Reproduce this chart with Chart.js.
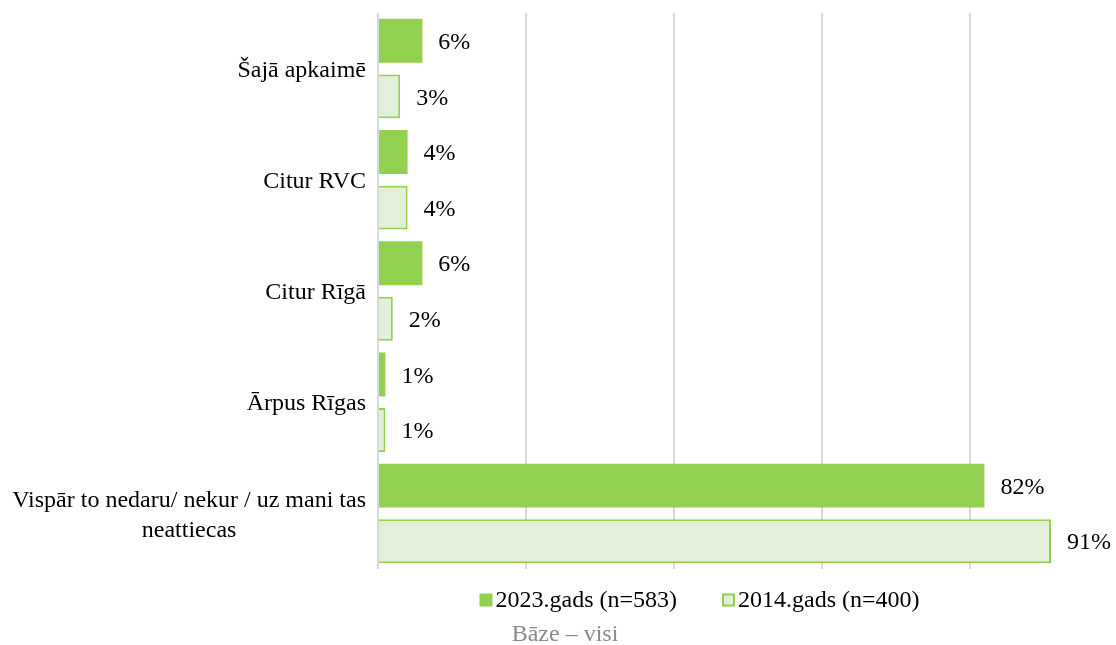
<!DOCTYPE html>
<html>
<head>
<meta charset="utf-8">
<script src="https://cdn.jsdelivr.net/npm/chart.js@4/dist/chart.umd.min.js"></script>
<style>
  html, body { margin:0; padding:0; background:#fff; }
  #wrap { width:1116px; height:645px; }
</style>
</head>
<body>
<div id="wrap"><canvas id="chart" width="1116" height="645"></canvas></div>
<script>
const categories = [
  "Šajā apkaimē",
  "Citur RVC",
  "Citur Rīgā",
  "Ārpus Rīgas",
  ["Vispār to nedaru/ nekur / uz mani tas", "neattiecas"]
];
const values2023 = [6, 4, 6, 1, 82];
const values2014 = [3, 4, 2, 1, 91];
const seriesNames = ["2023.gads (n=583)", "2014.gads (n=400)"];
const gridSteps = [0, 20, 40, 60, 80];
const baseNote = "Bāze – visi";

const FONT = "'Liberation Serif', 'Times New Roman', serif";
const FONT_SIZE = 24;

// right-aligned category block, each line centred inside it
const categoryLabels = {
  id: "categoryLabels",
  afterDraw(chart){
    const ctx = chart.ctx;
    const y = chart.scales.y;
    const right = 366;
    const lineH = 30;
    ctx.save();
    ctx.font = `${FONT_SIZE}px ${FONT}`;
    ctx.fillStyle = "#000";
    ctx.textBaseline = "middle";
    ctx.textAlign = "center";
    chart.data.labels.forEach((lab, i) => {
      const lines = Array.isArray(lab) ? lab : [lab];
      const w = Math.max(...lines.map(l => ctx.measureText(l).width));
      const cx = right - w/2;
      const cy = y.getPixelForValue(i) + 2;
      const top = cy - (lines.length-1)*lineH/2;
      lines.forEach((l, k) => ctx.fillText(l, cx, top + k*lineH));
    });
    ctx.restore();
  }
};

// percent labels at the end of each bar
const valueLabels = {
  id: "valueLabels",
  afterDatasetsDraw(chart){
    const ctx = chart.ctx;
    ctx.save();
    ctx.font = `${FONT_SIZE}px ${FONT}`;
    ctx.fillStyle = "#000";
    ctx.textBaseline = "middle";
    ctx.textAlign = "left";
    chart.data.datasets.forEach((ds, di) => {
      chart.getDatasetMeta(di).data.forEach((bar, i) => {
        ctx.fillText(ds.data[i] + "%", bar.x + 16, bar.y + 2);
      });
    });
    ctx.restore();
  }
};

// legend row and base note under the plot
const bottomLegend = {
  id: "bottomLegend",
  afterDraw(chart){
    const ctx = chart.ctx;
    const area = chart.chartArea;
    const box = 13, gap = 3, between = 45;
    ctx.save();
    ctx.font = `${FONT_SIZE}px ${FONT}`;
    ctx.textBaseline = "middle";
    ctx.textAlign = "left";
    const items = chart.data.datasets.map(ds => ({ ds, w: ctx.measureText(ds.label).width }));
    const total = items.reduce((s, it) => s + box + gap + it.w, 0) + between*(items.length-1);
    let x = (area.left + area.right)/2 - 15 - total/2;
    const yc = area.bottom + 31;
    items.forEach(({ ds, w }) => {
      ctx.fillStyle = ds.backgroundColor;
      ctx.fillRect(x, yc - box/2, box, box);
      if(ds.borderWidth){
        ctx.strokeStyle = ds.borderColor;
        ctx.lineWidth = ds.borderWidth;
        ctx.strokeRect(x + 1, yc - box/2 + 1, box - 2, box - 2);
      }
      ctx.fillStyle = "#000";
      ctx.fillText(ds.label, x + box + gap, yc + 1);
      x += box + gap + w + between;
    });

    ctx.fillStyle = "#8a8a8a";
    ctx.textAlign = "center";
    ctx.fillText(baseNote, 565, area.bottom + 66);
    ctx.restore();
  }
};

new Chart(document.getElementById("chart"), {
  type: "bar",
  data: {
    labels: categories,
    datasets: [
      {
        label: seriesNames[0],
        data: values2023,
        backgroundColor: "#92D050",
        borderColor: "#92D050",
        borderWidth: 0,
        categoryPercentage: 1.0,
        barPercentage: 0.79
      },
      {
        label: seriesNames[1],
        data: values2014,
        backgroundColor: "#E2EFDA",
        borderColor: "#92D050",
        borderWidth: 2,
        categoryPercentage: 1.0,
        barPercentage: 0.79
      }
    ]
  },
  options: {
    indexAxis: "y",
    responsive: false,
    animation: false,
    layout: { padding: { top: 13, right: 65, bottom: 76, left: 0 } },
    scales: {
      x: {
        min: 0,
        max: 91,
        afterBuildTicks(scale){
          scale.ticks = gridSteps.map(v => ({ value: v }));
        },
        ticks: { display: false },
        grid: { color: "#d9d9d9", lineWidth: 2, drawTicks: false },
        border: { display: false }
      },
      y: {
        ticks: { display: false },
        grid: { display: false },
        border: { display: false },
        afterFit(scale){ scale.width = 378; }
      }
    },
    plugins: {
      tooltip: { enabled: false },
      legend: { display: false },
      title: { display: false }
    }
  },
  plugins: [categoryLabels, valueLabels, bottomLegend]
});
</script>
</body>
</html>
